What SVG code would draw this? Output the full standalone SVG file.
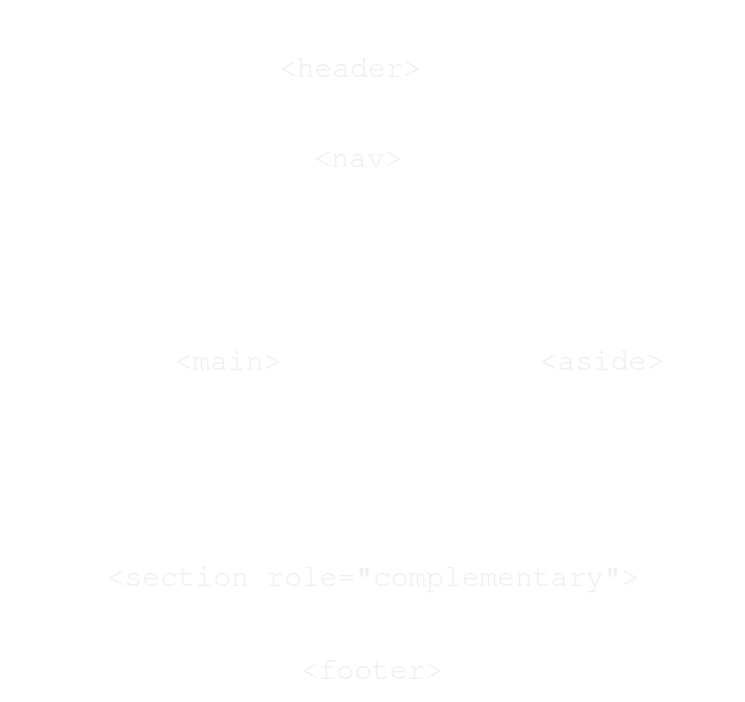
<svg xmlns="http://www.w3.org/2000/svg" width="745" height="702" viewBox="0 0 745 702">
<style>
.lbl{font-family:"Nimbus Mono PS","Nimbus Mono L","FreeMono","Courier New","Courier","Liberation Mono",monospace;font-size:29.6px;fill:#efefef;text-anchor:middle}
</style>
<rect width="745" height="702" fill="#ffffff"/>
<g id="connectors"/>
<g id="header"><text class="lbl" x="350" y="77">&lt;header&gt;</text></g>
<g id="nav"><text class="lbl" x="358" y="167">&lt;nav&gt;</text></g>
<g id="main"><text class="lbl" x="228" y="370">&lt;main&gt;</text></g>
<g id="aside"><text class="lbl" x="602" y="370">&lt;aside&gt;</text></g>
<g id="section"><text class="lbl" x="373" y="586">&lt;section role="complementary"&gt;</text></g>
<g id="footer"><text class="lbl" x="372" y="679">&lt;footer&gt;</text></g>
</svg>
